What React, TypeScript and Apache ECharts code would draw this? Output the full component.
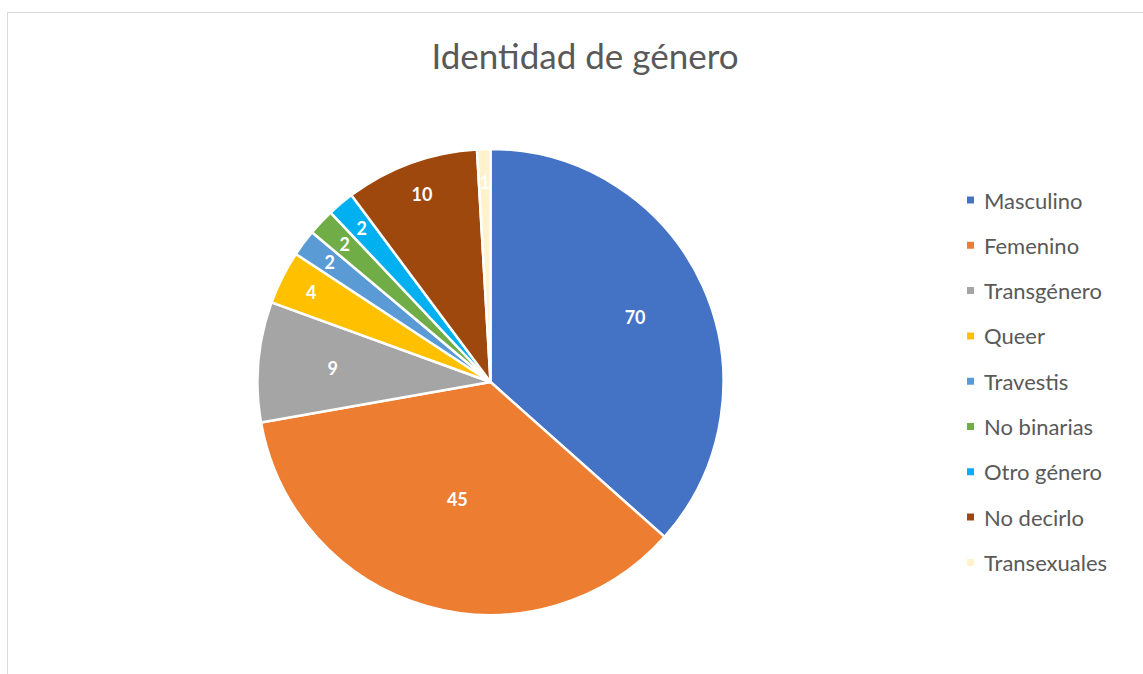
import React, { useEffect, useRef } from "react";
import * as echarts from "echarts";

const categories = [
  "Masculino",
  "Femenino",
  "Transgénero",
  "Queer",
  "Travestis",
  "No binarias",
  "Otro género",
  "No decirlo",
  "Transexuales",
];
const sliceValues = [39.5, 38.5, 9, 4, 2, 2, 2, 10, 1];
// numbers printed on the slices
const labelValues = [70, 45, 9, 4, 2, 2, 2, 10, 1];
// which ring the printed label sits on
const labelRing = ["mid", "inner", "mid", "outer", "outer", "outer", "outer", "outer", "outer"];
const colors = [
  "#4472C4",
  "#ED7D31",
  "#A5A5A5",
  "#FFC000",
  "#5B9BD5",
  "#70AD47",
  "#00B0F0",
  "#9E480E",
  "#FFF2CC",
];

const FONT = "Lato, 'Open Sans', sans-serif";

export default function App() {
  const ref = useRef<HTMLDivElement>(null);
  useEffect(() => {
    if (!ref.current) return;
    const chart = echarts.init(ref.current, undefined, { renderer: "svg" });
    const center = [490.5, 382];
    const R = 233;
    const overlay = (ring: string, r0: number) => ({
      type: "pie",
      silent: true,
      center,
      radius: [r0, R],
      startAngle: 90,
      clockwise: true,
      avoidLabelOverlap: false,
      labelLine: { show: false },
      emphasis: { disabled: true },
      z: 3,
      data: categories.map((name, i) => ({
        name,
        value: sliceValues[i],
        itemStyle: { color: "rgba(0,0,0,0)", borderWidth: 0 },
        label: {
          show: labelRing[i] === ring,
          position: "inside",
          rotate: 0,
          formatter: String(labelValues[i]),
          color: "#ffffff",
          fontSize: 18,
          fontWeight: "bold",
          fontFamily: FONT,
        },
      })),
    });
    chart.setOption({
      animation: false,
      backgroundColor: "#ffffff",
      title: {
        text: "Identidad de género",
        left: 580,
        textAlign: "center",
        top: 32,
        textStyle: { fontSize: 35, fontWeight: "normal", color: "#595959", fontFamily: FONT },
      },
      legend: {
        orient: "vertical",
        left: 960,
        top: 184,
        itemWidth: 9,
        itemHeight: 9,
        itemGap: 23.3,
        icon: "rect",
        selectedMode: false,
        textStyle: {
          fontSize: 22,
          color: "#595959",
          fontFamily: FONT,
          lineHeight: 22,
          padding: [0, 0, 0, 4],
        },
        data: categories.map((name, i) => ({ name, itemStyle: { color: colors[i] } })),
      },
      graphic: [
        {
          type: "rect",
          shape: { x: 7.5, y: 12.5, width: 1300, height: 800 },
          style: { fill: "none", stroke: "#d9d9d9", lineWidth: 1 },
          silent: true,
        },
      ],
      series: [
        {
          type: "pie",
          center,
          radius: [0, R],
          startAngle: 90,
          clockwise: true,
          label: { show: false },
          labelLine: { show: false },
          itemStyle: { borderColor: "#ffffff", borderWidth: 2.5 },
          emphasis: { disabled: true },
          data: categories.map((name, i) => ({
            name,
            value: sliceValues[i],
            itemStyle: { color: colors[i] },
          })),
        },
        overlay("mid", 78),
        overlay("inner", 4),
        overlay("outer", 162),
      ],
    });
    return () => chart.dispose();
  }, []);
  return (
    <div
      ref={ref}
      style={{ position: "absolute", left: 0, top: 0, width: 1143, height: 674 }}
    />
  );
}
